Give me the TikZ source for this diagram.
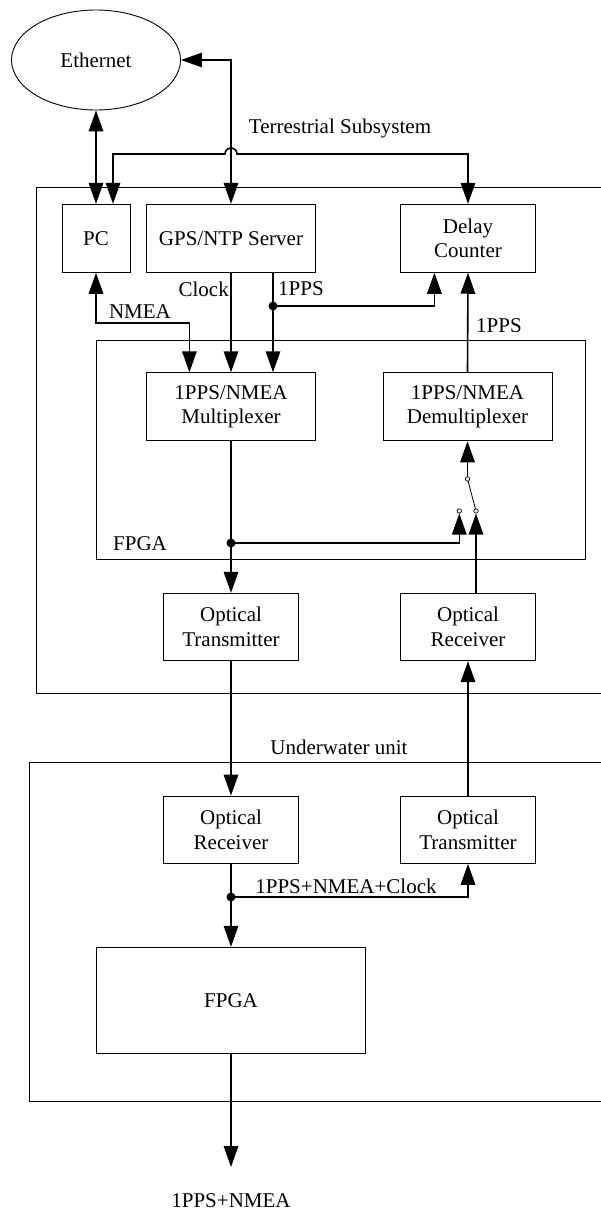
\documentclass[tikz,border=0pt]{standalone}
\usepackage{fontspec}
\setmainfont{Liberation Serif}
\usetikzlibrary{arrows.meta,shapes.geometric,calc}
\begin{document}
\begin{tikzpicture}[x=1pt,y=-1pt,
  txt/.style={font=\fontsize{21}{24.5}\selectfont},
  box/.style={draw,line width=0.9pt,rectangle,inner sep=0pt,align=center,txt},
  lbl/.style={inner sep=0pt,txt},
  frame/.style={draw,line width=0.9pt},
  conn/.style={line width=1.6pt},
  arr/.style={-{Triangle[length=21pt,width=14.5pt]}},
  darr/.style={{Triangle[length=21pt,width=14.5pt]}-{Triangle[length=21pt,width=14.5pt]}},
  dot/.style={fill=black},
  sw/.style={draw,line width=0.7pt,fill=white}
]
\useasboundingbox (0,0) rectangle (600,1212);
\fill[white] (0,0) rectangle (600,1212);

% frames
\draw[frame] (36,187) rectangle (615,693);
\draw[frame] (96,340) rectangle (585.5,559);
\draw[frame] (29,762) rectangle (615,1101);

% labels of frames
\node[lbl] (tlab) at (340,128) {Terrestrial Subsystem};
\node[lbl] (flab) at (140,544) {FPGA};
\node[lbl] (ulab) at (339,747) {Underwater unit};

% nodes
\node[draw,ellipse,line width=0.9pt,minimum width=169pt,minimum height=100pt,inner sep=0pt,txt] (eth) at (96,60) {Ethernet};
\node[box,minimum width=68pt,minimum height=68pt] (pc) at (96,238.3) {PC};
\node[box,minimum width=168.7pt,minimum height=68pt] (gps) at (231,238.3) {GPS/NTP Server};
\node[box,minimum width=135pt,minimum height=68pt] (delay) at (468,238.3) {Delay\\Counter};
\node[box,minimum width=168.7pt,minimum height=68pt] (mux) at (231,406.7) {1PPS/NMEA\\Multiplexer};
\node[box,minimum width=169pt,minimum height=68pt] (demux) at (467.5,406.8) {1PPS/NMEA\\Demultiplexer};
\node[box,minimum width=135.7pt,minimum height=67.4pt] (otx) at (231,627) {Optical\\Transmitter};
\node[box,minimum width=135.7pt,minimum height=67.4pt] (orx) at (468,627) {Optical\\Receiver};
\node[box,minimum width=135.7pt,minimum height=67.3pt] (urx) at (231,829.7) {Optical\\Receiver};
\node[box,minimum width=135pt,minimum height=67.3pt] (utx) at (468,829.7) {Optical\\Transmitter};
\node[box,minimum width=269pt,minimum height=106pt] (ufpga) at (231,1000.3) {FPGA};
\node[lbl] (outl) at (231,1201) {1PPS+NMEA};

% signal labels
\node[lbl] (nmea) at (140,312) {NMEA};
\node[lbl,anchor=east] (clk) at (229,289) {Clock};
\node[lbl,anchor=west] (pps1) at (278,289) {1PPS};
\node[lbl,anchor=west] (pps2) at (476,326) {1PPS};
\node[lbl] (mix) at (346,886) {1PPS+NMEA+Clock};

% coordinates
\coordinate (ethc) at (231,60);
\coordinate (h1) at (113,154);
\coordinate (h2) at (468,154);
\coordinate (n1) at (96,323);
\coordinate (n2) at (189.4,323);
\coordinate (s1) at (273,306);
\coordinate (s2) at (434.4,306);
\coordinate (m1) at (231,543);
\coordinate (swa) at (459.3,511);
\coordinate (swat) at (459.3,513.5);
\coordinate (swb) at (476,511);
\coordinate (swbt) at (476,513.5);
\coordinate (sw0) at (467.5,479);
\coordinate (d3) at (231,897);
\coordinate (out) at (231,1167);

% connectors
\draw[conn,darr] (eth.south) -- (pc.north);
\draw[conn,darr] (eth.east) -- (ethc) -- (gps.north);
\draw[conn,darr] (pc.north -| h1) -- (h1) -- ($(ethc|-h1)+(-6,0)$)
   arc[start angle=180,end angle=360,radius=6] -- (h2) -- (delay.north);
\draw[conn,darr] (pc.south) -- (n1) -- (n2) -- (mux.north -| n2);
\draw[conn,arr] (gps.south) -- (mux.north);
\draw[conn,arr] (gps.south -| s1) -- (mux.north -| s1);
\draw[conn,arr] (s1) -- (s2) -- (delay.south -| s2);
\fill[dot] (s1) circle (4.5);
\draw[conn,arr] (demux.north) -- (delay.south);
\draw[conn,arr] (mux.south) -- (otx.north);
\draw[conn,arr] (m1) -- (m1 -| swa) -- (swat);
\fill[dot] (m1) circle (4.5);
\draw[conn,arr] (orx.north -| swb) -- (swbt);
\draw[line width=0.8pt] (swb) -- (sw0);
\draw[conn,arr] (sw0) -- (demux.south);
\draw[sw] (swa) circle (2.2);
\draw[sw] (swb) circle (2.2);
\draw[sw] (sw0) circle (2.2);
\draw[conn,arr] (otx.south) -- (urx.north);
\draw[conn,arr] (utx.north) -- (orx.south);
\draw[conn,arr] (urx.south) -- (ufpga.north);
\draw[conn,arr] (d3) -- (d3 -| utx.south) -- (utx.south);
\fill[dot] (d3) circle (4.5);
\draw[conn,arr] (ufpga.south) -- (out);
\end{tikzpicture}
\end{document}
